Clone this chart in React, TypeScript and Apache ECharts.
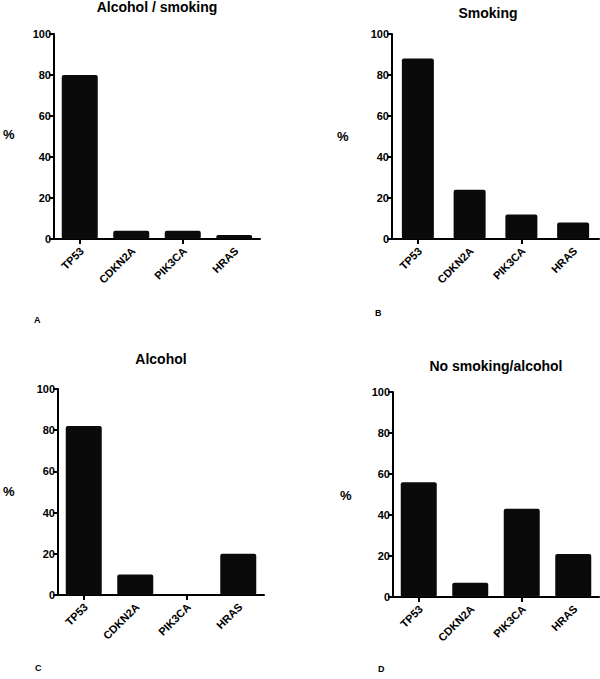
import React, { useEffect, useRef } from "react";
import * as echarts from "echarts";

const categories = ["TP53", "CDKN2A", "PIK3CA", "HRAS"];
const alcoholSmoking = [80, 4, 4, 2];
const smoking = [88, 24, 12, 8];
const alcohol = [82, 10, 0, 20];
const noSmokingAlcohol = [56, 7, 43, 21];
const panelTitles = ["Alcohol / smoking", "Smoking", "Alcohol", "No smoking/alcohol"];
const panelLetters = ["A", "B", "C", "D"];
const yTicks = [0, 20, 40, 60, 80, 100];

const FONT = "Liberation Sans, Arial, sans-serif";

export default function App() {
  const ref = useRef<HTMLDivElement>(null);
  useEffect(() => {
    if (!ref.current) return;
    const chart = echarts.init(ref.current, null, { renderer: "svg" });
    const grids = [
      { left: 54, top: 34, width: 206, height: 205 },
      { left: 392, top: 34, width: 207, height: 205 },
      { left: 58, top: 389, width: 206, height: 206 },
      { left: 393, top: 392, width: 206, height: 205 },
    ];
    const datas = [alcoholSmoking, smoking, alcohol, noSmokingAlcohol];
    const barWidths = [36, 32, 36, 36];
    const titleTop = [0, 6, 352, 359];
    const titleX = [157, 488, 161, 496];
    const pctPos = [
      { x: 9, y: 135 },
      { x: 343, y: 137 },
      { x: 9, y: 492 },
      { x: 346, y: 496 },
    ];
    const letterPos = [
      { x: 38, y: 320 },
      { x: 379, y: 313 },
      { x: 39, y: 668 },
      { x: 382, y: 669 },
    ];
    const axisLine = { show: true, lineStyle: { color: "#000", width: 2 } };
    const option: any = {
      animation: false,
      backgroundColor: "#fff",
      title: panelTitles.map((t, i) => ({
        text: t,
        left: titleX[i],
        top: titleTop[i],
        textAlign: "center",
        textStyle: { fontFamily: FONT, fontSize: 14, fontWeight: "bold", color: "#000" },
        padding: 0,
      })),
      grid: grids.map((g) => ({ ...g, containLabel: false })),
      xAxis: grids.map((_, i) => ({
        type: "category",
        gridIndex: i,
        data: categories,
        boundaryGap: true,
        axisLine,
        axisTick: { show: true, alignWithLabel: true, length: 5, lineStyle: { color: "#000", width: 2 } },
        axisLabel: { show: false },
        splitLine: { show: false },
      })),
      yAxis: grids.map((_, i) => ({
        type: "value",
        gridIndex: i,
        min: 0,
        max: 100,
        interval: 20,
        axisLine,
        axisTick: { show: true, length: 5, lineStyle: { color: "#000", width: 2 } },
        axisLabel: {
          margin: 3,
          fontFamily: FONT,
          fontSize: 11,
          fontWeight: "bold",
          color: "#000",
          formatter: (v: number) => (yTicks.includes(v) ? String(v) : ""),
        },
        splitLine: { show: false },
      })),
      series: datas.map((d, i) => ({
        type: "bar",
        xAxisIndex: i,
        yAxisIndex: i,
        data: d,
        barWidth: barWidths[i],
        itemStyle: { color: "#0a0a0a", borderRadius: 2 },
      })),
    };
    chart.setOption(option);

    const catLabels: any[] = [];
    grids.forEach((_, gi) => {
      categories.forEach((c, ci) => {
        const p = chart.convertToPixel({ gridIndex: gi } as any, [ci, 0]) as number[];
        if (!p) return;
        catLabels.push({
          type: "text",
          x: p[0] + 2,
          y: p[1] + 10,
          rotation: Math.PI / 4,
          style: {
            text: c,
            font: `bold 11px ${FONT}`,
            fill: "#000",
            align: "right",
            verticalAlign: "middle",
          },
        });
      });
    });

    chart.setOption({
      graphic: [
        ...catLabels,
        ...pctPos.map((p) => ({
          type: "text",
          left: p.x - 6,
          top: p.y - 7,
          style: { text: "%", font: `bold 13px ${FONT}`, fill: "#000" },
        })),
        ...letterPos.map((p, i) => ({
          type: "text",
          left: p.x - 4,
          top: p.y - 5,
          style: { text: panelLetters[i], font: `bold 9px ${FONT}`, fill: "#000" },
        })),
      ],
    });
    return () => chart.dispose();
  }, []);
  return (
    <div
      ref={ref}
      style={{ position: "absolute", left: 0, top: 0, width: 600, height: 679, background: "#fff" }}
    />
  );
}
